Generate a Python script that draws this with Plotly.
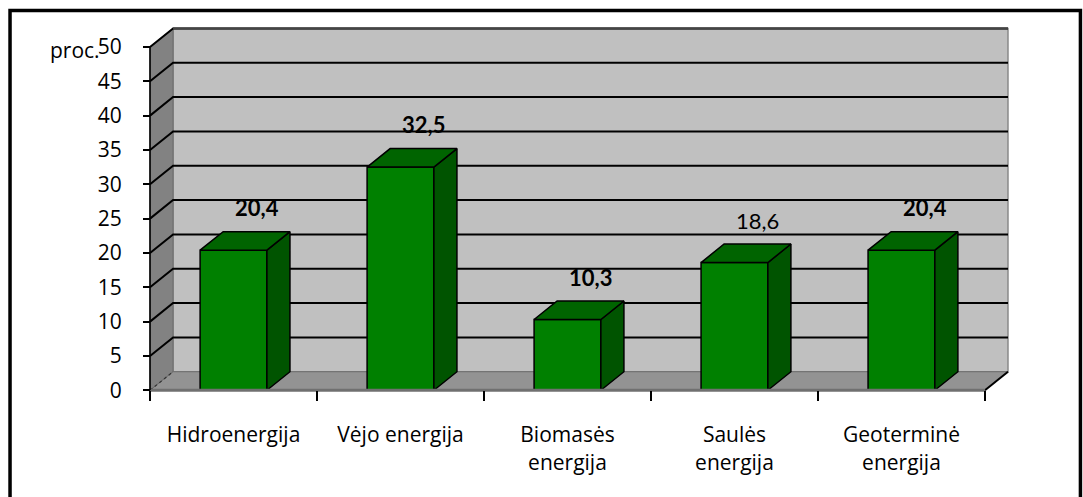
import plotly.graph_objects as go

# --- chart data ---
categories = ["Hidroenergija", "Vėjo energija", "Biomasės<br>energija",
              "Saulės<br>energija", "Geoterminė<br>energija"]
values = [20.4, 32.5, 10.3, 18.6, 20.4]
value_labels = ["20,4", "32,5", "10,3", "18,6", "20,4"]
y_ticks = [0, 5, 10, 15, 20, 25, 30, 35, 40, 45, 50]
y_unit = "proc."

# --- geometry of the pseudo-3D box (data units) ---
DX = 0.138      # depth offset along x (category units)
DY = 2.7        # depth offset along y (value units)
BAR_W = 0.40    # bar width (category units)
Y_MAX = 50
N = len(categories)

# --- pixel layout ---
W_PX, H_PX = 1083, 497
AX_X0_PX, AX_Y0_PX = 150, 390        # pixel position of data (0, 0)
PX_X, PX_Y = 167.0, 6.868            # pixels per data unit
XR = (-0.06, N + DX + 0.03)
YR = (-0.4, Y_MAX + DY + 0.5)
ml = AX_X0_PX + XR[0] * PX_X
plot_w = (XR[1] - XR[0]) * PX_X
mr = W_PX - ml - plot_w
mb = H_PX - AX_Y0_PX + YR[0] * PX_Y
plot_h = (YR[1] - YR[0]) * PX_Y
mt = H_PX - mb - plot_h

FONT = "Open Sans"
LABEL_FONT = "Lato"
fig = go.Figure()


def poly(xs, ys, fill, line_color="black", line_w=1.2):
    fig.add_trace(go.Scatter(
        x=list(xs) + [xs[0]], y=list(ys) + [ys[0]], mode="lines",
        fill="toself", fillcolor=fill,
        line=dict(color=line_color, width=line_w),
        hoverinfo="skip", showlegend=False))


def seg(xs, ys, color="black", width=2, dash=None):
    fig.add_trace(go.Scatter(
        x=xs, y=ys, mode="lines",
        line=dict(color=color, width=width, dash=dash),
        hoverinfo="skip", showlegend=False, cliponaxis=False))


# back wall
poly([DX, N + DX, N + DX, DX], [DY, DY, Y_MAX + DY, Y_MAX + DY],
     "#c0c0c0", line_color="#8a8a8a", line_w=1.5)
# left side wall
poly([0, DX, DX, 0], [0, DY, Y_MAX + DY, Y_MAX], "#828282",
     line_color="#6a6a6a", line_w=1)
# floor
poly([0, N, N + DX, DX], [0, 0, DY, DY], "#939393",
     line_color="#6e6e6e", line_w=1)

# gridlines on back wall and their continuation across the side wall
for v in y_ticks[1:]:
    seg([0, DX, N + DX], [v, v + DY, v + DY], "black", 2)
seg([DX, N + DX], [Y_MAX + DY, Y_MAX + DY], "#444444", 2)
seg([0, DX], [0, DY], "#333333", 1.2, "dot")
seg([N, N + DX], [0, DY], "black", 2)

# bars (front, right side, top)
for i, v in enumerate(values):
    x0 = i + 0.5 - BAR_W / 2
    x1 = i + 0.5 + BAR_W / 2
    poly([x0, x1, x1, x0], [0, 0, v, v], "#008000", line_w=1.5)
    poly([x1, x1 + DX, x1 + DX, x1], [0, DY, v + DY, v], "#005400", line_w=1.5)
    poly([x0, x1, x1 + DX, x0 + DX], [v, v, v + DY, v + DY], "#006400", line_w=1.5)

# front axis lines
seg([0, N], [0, 0], "#707070", 3)
seg([0, 0], [0, Y_MAX], "black", 1.6)

# value labels above each bar
for i, (v, lab) in enumerate(zip(values, value_labels)):
    bold = lab != "18,6"
    fig.add_annotation(
        x=i + 0.5 + DX, y=v + DY, text=f"<b>{lab}</b>" if bold else lab,
        showarrow=False, yshift=24, xanchor="center", yanchor="middle",
        font=dict(family=LABEL_FONT, size=22, color="black"))

# unit label beside the top tick
fig.add_annotation(
    x=0, y=Y_MAX, text=y_unit, showarrow=False, xanchor="right",
    yanchor="middle", xshift=-48, yshift=-3,
    font=dict(family=FONT, size=21, color="black"))

# outer frame
def px2paper_x(px):
    return (px - ml) / plot_w


def px2paper_y(py):
    return (H_PX - mb - py) / plot_h


fig.add_shape(type="rect", xref="paper", yref="paper",
              x0=px2paper_x(10), x1=px2paper_x(1080.5),
              y0=px2paper_y(515), y1=px2paper_y(10),
              line=dict(color="black", width=3.5), layer="above")

fig.update_layout(
    width=W_PX, height=H_PX,
    margin=dict(l=ml, r=mr, t=mt, b=mb, pad=0),
    paper_bgcolor="white", plot_bgcolor="white",
    font=dict(family=FONT, color="black"),
    xaxis=dict(
        range=list(XR), showgrid=False, zeroline=False, showline=False,
        tickmode="array", tickvals=[i + 0.5 for i in range(N)],
        ticktext=categories, ticks="", ticklabelstandoff=30,
        tickfont=dict(family=FONT, size=21, color="black"),
        anchor="free", position=(0 - YR[0]) / (YR[1] - YR[0]),
        minor=dict(tickmode="array", tickvals=list(range(N + 1)),
                   ticks="outside", ticklen=10, tickwidth=2,
                   tickcolor="black", showgrid=False),
        fixedrange=True),
    yaxis=dict(
        range=list(YR), showgrid=False, zeroline=False, showline=False,
        tickmode="array", tickvals=y_ticks,
        ticks="outside", ticklen=7, tickwidth=2, tickcolor="black",
        ticklabelstandoff=17,
        tickfont=dict(family=FONT, size=21, color="black"),
        anchor="free", position=(0 - XR[0]) / (XR[1] - XR[0]),
        fixedrange=True),
)

fig.write_html("out.html")
